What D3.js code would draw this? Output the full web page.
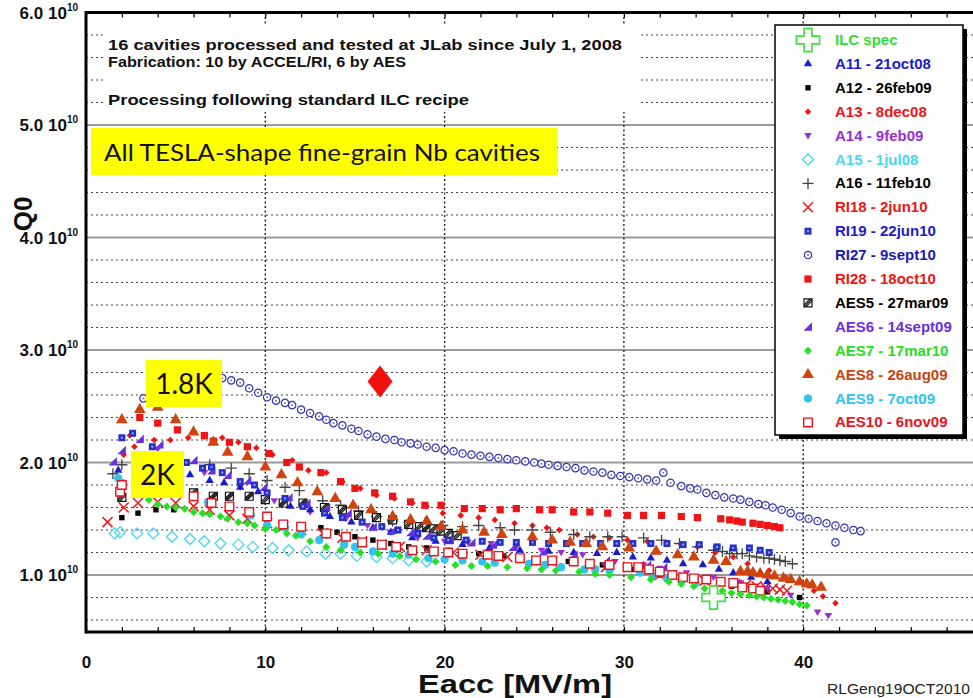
<!DOCTYPE html>
<html><head><meta charset="utf-8">
<script src="https://cdn.jsdelivr.net/npm/d3@7"></script>
<style>body{margin:0;background:#fff}svg{display:block}</style>
</head><body>
<svg id="c" width="973" height="698"></svg>
<script>
// ---------- DATA (Eacc [MV/m], Q0 [1e10]) ----------
const xTickLabels=[0,10,20,30,40,50];
const yTickLabels=[1,2,3,4,5,6];
const legendLabels=["ILC spec","A11 - 21oct08","A12 - 26feb09","A13 - 8dec08","A14 - 9feb09","A15 - 1jul08","A16 - 11feb10","RI18 - 2jun10","RI19 - 22jun10","RI27 - 9sept10","RI28 - 18oct10","AES5 - 27mar09","AES6 - 14sept09","AES7 - 17mar10","AES8 - 26aug09","AES9 - 7oct09","AES10 - 6nov09"];
const ILC_spec=[[35,0.80]];
const A11=[[1.8,1.93],[5.8,1.89],[6.9,1.84],[7.7,1.82],[8.6,1.78],[9.6,1.74],[11.4,1.61],[12.5,1.58],[13.6,1.52],[14.8,1.47],[16,1.42],[17,1.38],[18.2,1.33],[19.5,1.30],[21,1.27],[22.5,1.24],[24.2,1.22],[25.8,1.21],[27.2,1.20],[28.5,1.19],[29.6,1.20],[30.5,1.16],[31.5,1.15],[32.4,1.13],[33.3,1.10],[34.4,1.09],[35.3,1.05],[36.1,1.02],[37.1,0.98],[38,0.94]];
const A12=[[2.0,1.51],[2.9,1.55],[3.9,1.58],[4.9,1.58],[13.1,1.42],[14.0,1.38],[15.0,1.34],[16.0,1.31],[17.0,1.28],[18.0,1.25],[19.0,1.24],[21.9,1.19],[23.3,1.17],[25,1.14],[26.9,1.12],[28.8,1.09],[30.5,1.05],[32,1.0],[34,0.95],[36,0.9],[38,0.85],[39.8,0.80]];
const A13=[[2.1,2.07],[2.45,2.24],[2.7,2.14],[3.8,2.20],[4.7,2.20],[5.7,2.22],[6.6,2.23],[7.6,2.22],[8.5,2.18],[9.5,2.13],[10.4,2.07],[11.5,2.02],[12.4,1.93],[13.4,1.91],[14.3,1.83],[15.3,1.77],[16.2,1.71],[17.2,1.68],[18.2,1.64],[19.0,1.61],[19.9,1.55],[20.9,1.53],[21.9,1.51],[22.8,1.49],[23.9,1.46],[24.9,1.44],[25.7,1.42],[26.4,1.40],[27.4,1.36],[28.3,1.34],[29.2,1.33],[30.2,1.31],[31.3,1.30],[32.4,1.28],[33.2,1.27],[34.1,1.25],[35.1,1.20],[36.1,1.16],[36.9,1.10],[38.1,1.04],[39.0,0.98],[40.0,0.92],[40.6,0.86],[41.1,0.81],[41.8,0.75]];
const A14=[[4.0,2.12],[6.6,1.91],[8.6,1.78],[10.5,1.66],[12.5,1.56],[14.5,1.50],[15.7,1.44],[17,1.38],[18.5,1.33],[20,1.30],[21.3,1.29],[22.6,1.28],[24,1.25],[25.4,1.22],[26.5,1.20],[27.7,1.18],[29.5,1.12],[31.1,1.09],[32,1.06],[33.5,1.02],[35,0.98],[36.5,0.93],[38,0.88],[39.3,0.82],[40.8,0.67],[41.4,0.64]];
const A15=[[1.6,1.37],[1.9,1.38],[2.85,1.37],[3.75,1.37],[4.8,1.34],[5.8,1.32],[6.6,1.30],[7.5,1.28],[8.5,1.27],[9.3,1.25],[10.4,1.24],[11.3,1.22],[12.3,1.21],[13.35,1.19],[14.2,1.19],[15.1,1.17],[16.2,1.16],[17.1,1.15],[18.0,1.13],[19.0,1.12]];
const A16=[[1.5,1.90],[2.0,1.98],[6.9,1.98],[8.1,1.95],[9.1,1.90],[10.1,1.84],[11.1,1.78],[11.9,1.75],[13.2,1.66],[14.2,1.62],[15.2,1.57],[16.2,1.52],[17.1,1.48],[18.0,1.47],[18.9,1.46],[19.9,1.44],[21.0,1.43],[21.9,1.44],[23.1,1.42],[23.9,1.40],[24.9,1.40],[25.9,1.38],[27.2,1.36],[28.1,1.34],[29.1,1.34],[29.9,1.34],[31.1,1.33],[32.1,1.31],[33.1,1.28],[34.1,1.25],[35.0,1.22],[35.5,1.21],[35.9,1.19],[36.3,1.19],[36.6,1.19],[37.0,1.17],[37.4,1.16],[37.8,1.15],[38.1,1.15],[38.4,1.14],[38.7,1.13],[39.0,1.12],[39.4,1.10]];
const RI18=[[1.2,1.47],[2.1,1.60],[2.9,1.64],[4.0,1.65],[5.0,1.64],[6.0,1.61],[6.9,1.58],[8.0,1.53],[9.0,1.50],[10.1,1.46],[11.0,1.43],[12.0,1.40],[13.2,1.37],[14.3,1.33],[15.4,1.30],[16.5,1.27],[17.5,1.25],[19.0,1.22],[20.5,1.20],[22.0,1.18],[23.5,1.16],[26.0,1.12],[29.0,1.07],[32.0,1.00],[34.5,0.95],[36.2,0.92],[36.8,0.91],[37.4,0.90],[37.9,0.89],[38.3,0.88],[38.7,0.87],[39.1,0.86]];
const RI19=[[2.0,2.22],[2.6,2.26],[3.7,2.14],[5.6,2.00],[6.5,1.95],[7.0,1.96],[7.6,1.91],[8.6,1.83],[9.4,1.80],[10.1,1.73],[11.1,1.68],[12.1,1.61],[13.3,1.55],[14.3,1.51],[15.4,1.47],[16.5,1.43],[17.4,1.40],[18.5,1.37],[19.4,1.33],[20.2,1.31],[21.2,1.31],[22.1,1.30],[23.1,1.29],[24.0,1.29],[24.9,1.29],[25.8,1.28],[26.8,1.28],[27.7,1.28],[28.7,1.28],[29.6,1.28],[30.5,1.28],[31.5,1.28],[32.4,1.28],[33.3,1.27],[34.2,1.27],[35.2,1.25],[36.1,1.24],[37.0,1.24],[37.6,1.22],[38.1,1.20]];
const RI27=[[3.2,2.57],[3.6,2.62],[4.0,2.66],[4.5,2.70],[5.0,2.72],[5.5,2.74],[6.0,2.76],[6.5,2.76],[7.0,2.76],[7.6,2.75],[8.1,2.73],[8.6,2.71],[9.1,2.66],[9.6,2.62],[10.1,2.58],[10.6,2.55],[11.1,2.53],[11.5,2.51],[12.0,2.47],[12.5,2.44],[13.0,2.41],[13.4,2.38],[13.8,2.35],[14.3,2.33],[14.8,2.30],[15.2,2.28],[15.7,2.25],[16.2,2.23],[16.7,2.21],[17.2,2.20],[17.6,2.18],[18.1,2.17],[18.5,2.16],[19.0,2.14],[19.5,2.13],[20.0,2.11],[20.5,2.10],[21.0,2.08],[21.5,2.07],[22.0,2.06],[22.5,2.05],[23.0,2.04],[23.5,2.03],[24.0,2.02],[24.5,2.01],[25.0,2.00],[25.4,1.99],[25.8,1.98],[26.3,1.97],[26.8,1.96],[27.3,1.95],[27.8,1.93],[28.3,1.92],[28.8,1.91],[29.3,1.89],[29.8,1.88],[30.3,1.87],[30.8,1.86],[31.3,1.85],[31.8,1.84],[32.2,1.91],[32.6,1.82],[33.2,1.79],[33.7,1.77],[34.1,1.76],[34.6,1.73],[35.1,1.71],[35.6,1.69],[36.1,1.68],[36.5,1.67],[37.0,1.65],[37.5,1.63],[37.9,1.62],[38.3,1.60],[38.8,1.58],[39.3,1.55],[39.8,1.52],[40.3,1.50],[40.8,1.48],[41.3,1.46],[41.8,1.44],[42.3,1.42],[42.8,1.40],[43.2,1.39],[41.8,1.29]];
const RI28=[[3.0,2.40],[4.0,2.35],[5.1,2.29],[6.6,2.24],[7.1,2.19],[8.0,2.18],[9.0,2.14],[10.2,2.08],[11.2,2.00],[11.9,1.96],[13.1,1.91],[14.2,1.83],[15.0,1.77],[16.1,1.73],[17.1,1.70],[18.1,1.65],[18.9,1.62],[19.8,1.62],[21.1,1.59],[22.1,1.59],[23.1,1.58],[24.0,1.59],[25.3,1.58],[26.0,1.58],[27.2,1.56],[28.1,1.56],[29.1,1.55],[30.2,1.53],[31.1,1.53],[32.1,1.53],[33.2,1.52],[34.1,1.51],[35.4,1.50],[35.9,1.49],[36.3,1.48],[36.6,1.47],[37.2,1.46],[37.6,1.45],[38.0,1.44],[38.4,1.43],[38.7,1.42]];
const AES5=[[2.0,1.69],[6.0,1.73],[7.1,1.70],[8.0,1.70],[9.1,1.70],[10.0,1.67],[11.0,1.64],[12.1,1.64],[13.3,1.60],[14.3,1.58],[15.2,1.53],[16.2,1.51],[17.1,1.49],[18.0,1.45],[18.6,1.43],[19.0,1.42],[19.4,1.41],[19.8,1.39],[20.2,1.37],[20.7,1.35]];
const AES6=[[1.5,2.01],[2.0,2.11],[3.0,2.21],[4.1,2.16],[6.0,2.02],[7.0,1.93],[7.9,1.89],[9.0,1.84],[9.9,1.78],[11.3,1.69],[12.3,1.64],[13.4,1.60],[14.6,1.55],[16.0,1.43],[17.1,1.40],[18.1,1.38],[19.0,1.35],[20.3,1.31],[21.5,1.29],[22.7,1.27],[23.8,1.25],[25.5,1.21],[27.2,1.18],[29.0,1.13],[30.9,1.09],[31.3,1.09],[32.2,1.07]];
const AES7=[[3.5,1.67],[4.0,1.63],[4.5,1.61],[5.0,1.60],[5.5,1.59],[6.0,1.56],[6.5,1.55],[6.9,1.54],[7.5,1.52],[7.9,1.50],[8.5,1.47],[9.0,1.46],[9.4,1.44],[10.0,1.41],[10.6,1.40],[11.2,1.37],[11.7,1.35],[12.5,1.30],[13.4,1.25],[14.2,1.22],[15.3,1.20],[16.3,1.19],[17.5,1.17],[18.4,1.14],[19.5,1.12],[20.6,1.09],[21.5,1.08],[22.4,1.08],[23.5,1.07],[24.6,1.06],[25.4,1.05],[26.2,1.04],[27.5,1.03],[28.4,1.01],[29.2,1.00],[30.4,0.98],[31.5,0.96],[32.5,0.94],[33.2,0.92],[33.9,0.90],[34.5,0.88],[35.0,0.87],[35.5,0.86],[36.0,0.84],[36.5,0.83],[37.0,0.82],[37.4,0.81],[37.8,0.80],[38.2,0.79],[38.6,0.78],[39.0,0.77],[39.4,0.76],[39.8,0.74],[40.2,0.73]];
const AES8=[[2.0,2.38],[3.0,2.47],[4.0,2.49],[5.0,2.38],[6.0,2.27],[7.1,2.18],[7.9,2.09],[9.0,2.05],[10.0,1.96],[10.9,1.89],[11.8,1.82],[12.9,1.74],[13.9,1.68],[14.9,1.62],[15.9,1.58],[17.1,1.52],[18.1,1.49],[19.0,1.48],[19.8,1.43],[21.0,1.40],[22.2,1.38],[23.2,1.36],[24.9,1.34],[26.0,1.31],[27.0,1.29],[27.9,1.28],[28.8,1.25],[30.3,1.24],[31.8,1.21],[33.0,1.18],[33.9,1.16],[35.0,1.13],[35.7,1.12],[36.5,1.03],[36.9,1.03],[37.2,1.02],[37.6,1.01],[38.0,1.00],[38.4,0.99],[38.9,0.97],[39.3,0.96],[39.8,0.94],[40.2,0.92],[40.5,0.91],[41.0,0.89]];
const AES9=[[1.8,1.86],[2.0,1.82],[6.8,1.65],[9.2,1.53],[10.1,1.44],[11.1,1.42],[12.0,1.36],[13.0,1.31],[14.4,1.27],[15.0,1.25],[16.0,1.21],[17.1,1.19],[18.0,1.18],[19.1,1.15],[20.0,1.14],[21.0,1.13],[22.1,1.12],[22.8,1.11],[24.7,1.10],[25.6,1.09],[26.5,1.07],[27.8,1.05],[28.4,1.05],[29.2,1.04],[30.9,1.02],[31.6,0.99],[32.4,0.97],[33.2,0.95],[34.0,0.93]];
const AES10=[[1.9,1.74],[2.0,1.80],[6.0,1.70],[7.0,1.64],[8.0,1.61],[9.1,1.56],[10.1,1.52],[11.0,1.45],[12.0,1.43],[13.4,1.37],[14.5,1.34],[15.4,1.29],[16.5,1.27],[17.3,1.25],[18.2,1.22],[19.4,1.21],[20.2,1.20],[21.0,1.19],[22.4,1.18],[23.0,1.17],[24.2,1.15],[25.1,1.13],[26.0,1.13],[27.2,1.12],[28.1,1.10],[29.2,1.09],[30.2,1.07],[30.8,1.07],[31.4,1.05],[32.0,1.03],[32.7,1.00],[33.3,0.98],[33.9,0.97],[34.6,0.96],[35.4,0.94],[36.1,0.93],[36.6,0.89],[37.2,0.88],[37.6,0.86]];
const redMarker=[[16.4,2.72]];

// ---------- STYLE ----------
const series=[
 {data:ILC_spec,shape:"ilc",color:"#3be03b",text:"#33dd33"},
 {data:A11,shape:"tri",color:"#1c1cc8",text:"#1c1cc8"},
 {data:A12,shape:"sq",color:"#000",text:"#000"},
 {data:A13,shape:"dia",color:"#ee1515",text:"#ee1515"},
 {data:A14,shape:"itri",color:"#9a2fd0",text:"#9a2fd0"},
 {data:A15,shape:"odia",color:"#45d8ee",text:"#45d8ee"},
 {data:A16,shape:"plus",color:"#444",text:"#000"},
 {data:RI18,shape:"x",color:"#ee1a1a",text:"#ee1515"},
 {data:RI19,shape:"bsq",color:"#2430c8",text:"#1c1cc8"},
 {data:RI27,shape:"ocirc",color:"#3434b0",text:"#1a1ab0"},
 {data:RI28,shape:"rsq",color:"#ee1515",text:"#ee1515"},
 {data:AES5,shape:"hsq",color:"#111",text:"#000"},
 {data:AES6,shape:"rtri",color:"#6a30dd",text:"#6a30dd"},
 {data:AES7,shape:"gdia",color:"#26e026",text:"#26dd26"},
 {data:AES8,shape:"btri",color:"#d0440f",text:"#c8440f"},
 {data:AES9,shape:"circ",color:"#2ec4ee",text:"#2ec4ee"},
 {data:AES10,shape:"osq",color:"#e8141e",text:"#e8141e"}
];

const svg=d3.select("#c");
const x=d3.scaleLinear().domain([0,50]).range([86,982.5]);
const y=d3.scaleLinear().domain([0.5,6]).range([631.25,12.5]);
const L=86,T=12.5,B=632;
const F="'Liberation Sans', Arial, Helvetica, sans-serif";

// grid
const g=svg.append("g");
const minor=d3.range(3,30).filter(i=>i%5!==0).map(i=>i/5);
g.selectAll(".mn").data(minor).join("line").attr("x1",L).attr("x2",973)
 .attr("y1",d=>y(d)).attr("y2",d=>y(d)).attr("stroke","#444").attr("stroke-width",1.2).attr("stroke-dasharray","2,3");
g.selectAll(".mj").data(yTickLabels.filter(d=>d<6)).join("line").attr("x1",L).attr("x2",973)
 .attr("y1",d=>y(d)).attr("y2",d=>y(d)).attr("stroke","#9a9a9a").attr("stroke-width",2);
g.selectAll(".vx").data([10,20,30,40]).join("line").attr("y1",T).attr("y2",B)
 .attr("x1",d=>x(d)).attr("x2",d=>x(d)).attr("stroke","#222").attr("stroke-width",1.4).attr("stroke-dasharray","2,2.5");

// minor ticks bottom/top via axis
svg.append("g").attr("transform",`translate(0,${B})`)
 .call(d3.axisBottom(x).tickValues(d3.range(0,51,2)).tickSize(-5).tickFormat(""))
 .call(a=>a.select(".domain").remove()).selectAll("line").attr("stroke","#000").attr("stroke-width",1.2);
svg.append("g").attr("transform",`translate(0,${T})`)
 .call(d3.axisTop(x).tickValues(d3.range(0,51,2)).tickSize(-5).tickFormat(""))
 .call(a=>a.select(".domain").remove()).selectAll("line").attr("stroke","#000").attr("stroke-width",1.2);

// x tick labels
svg.append("g").attr("transform",`translate(0,${B})`)
 .call(d3.axisBottom(x).tickValues(xTickLabels).tickSize(0).tickPadding(24).tickFormat(d3.format("d")))
 .call(a=>a.select(".domain").remove())
 .selectAll("text").attr("font-family",F).attr("font-weight","bold").attr("font-size",17).attr("fill","#111");

// y tick labels with superscript
const yl=svg.append("g");
yTickLabels.forEach(v=>{
  const t=yl.append("text").attr("x",78).attr("y",y(v)+6).attr("text-anchor","end")
   .attr("font-family",F).attr("font-weight","bold").attr("fill","#111");
  t.append("tspan").attr("font-size",17).text(v.toFixed(1)+" 10");
  t.append("tspan").attr("font-size",10).attr("dy",-8).text("10");
});

// top text box
svg.append("rect").attr("x",106).attr("y",26).attr("width",534).attr("height",86).attr("fill","#fff");
const tl=[["16 cavities processed and tested at JLab since July 1, 2008",50,514],["Fabrication: 10 by ACCEL/RI, 6 by AES",67,298],["Processing following standard ILC recipe",105,361]];
tl.forEach(([s,yy,w])=>svg.append("text").attr("x",108).attr("y",yy).attr("font-family",F).attr("font-weight","bold")
  .attr("font-size",14).attr("textLength",w).attr("lengthAdjust","spacingAndGlyphs").attr("fill","#111").text(s));

// marker drawing
function mark(sel,shape,c){
  const p=(d,fill,stroke,sw)=>sel.append("path").attr("d",d).attr("fill",fill||"none").attr("stroke",stroke||"none").attr("stroke-width",sw||0);
  switch(shape){
   case "ilc": p(d3.symbol(d3.symbolCross,300)(),"#fff",c,1.6);break;
   case "tri": p(d3.symbol(d3.symbolTriangle,30)(),c);break;
   case "sq": p("M-2.7,-2.7h5.4v5.4h-5.4z",c);break;
   case "dia": p("M0,-3.3L3.3,0L0,3.3L-3.3,0Z",c);break;
   case "itri": p("M-3.8,-2.6H3.8L0,3.8Z",c);break;
   case "odia": p("M0,-5.5L5.5,0L0,5.5L-5.5,0Z","none",c,1.3);break;
   case "plus": p("M-5.5,0H5.5M0,-5.5V5.5","none",c,1.3);break;
   case "x": p("M-5,-5L5,5M-5,5L5,-5","none",c,1.5);break;
   case "bsq": p("M-3.5,-3.5h7v7h-7z",c); p("M-1,-1h2v2h-2z","#9aa6f0");break;
   case "ocirc": p(d3.symbol(d3.symbolCircle,42)(),"#fff",c,1.2); p(d3.symbol(d3.symbolCircle,3)(),"#6c6cc0");break;
   case "rsq": p("M-3.6,-3.6h7.2v7.2h-7.2z",c);break;
   case "hsq": p("M-4,-4h8v8h-8z","#fff",c,1.2); p("M-4,2L2,-4M-2,4L4,-2M-4,4L4,-4","none",c,1.1);break;
   case "rtri": p("M-4.5,4L4,-4.5V4Z",c);break;
   case "gdia": p("M0,-4L4,0L0,4L-4,0Z",c);break;
   case "btri": p(d3.symbol(d3.symbolTriangle,60)(),c);break;
   case "circ": p(d3.symbol(d3.symbolCircle,52)(),c);break;
   case "osq": p("M-4.3,-4.3h8.6v8.6h-8.6z","#fff",c,1.4);break;
  }
}

// data marks
const order=[9,5,2,7,4,1,3,10,6,11,12,8,14,15,16,13];
order.forEach(i=>{
  const sr=series[i];
  svg.append("g").selectAll("g").data(sr.data).join("g")
   .attr("transform",d=>`translate(${x(d[0])},${y(d[1])})`)
   .each(function(){mark(d3.select(this),sr.shape,sr.color);});
});
svg.append("g").selectAll("g").data(ILC_spec).join("g")
 .attr("transform",d=>`translate(${x(d[0])},${y(d[1])})`).each(function(){mark(d3.select(this),"ilc",series[0].color);});

// red diamond annotation
svg.append("g").selectAll("path").data(redMarker).join("path")
 .attr("d","M0,-16L12.5,0L0,16L-12.5,0Z").attr("fill","#f01010")
 .attr("transform",d=>`translate(${x(d[0])},${y(d[1])})`);

// yellow labels
const LF="Lato, 'Open Sans', sans-serif";
svg.append("rect").attr("x",91).attr("y",128).attr("width",466).attr("height",47).attr("fill","#ffff00");
svg.append("text").attr("x",104).attr("y",161).attr("font-family",LF).attr("font-size",24).attr("textLength",436)
 .attr("lengthAdjust","spacingAndGlyphs").attr("fill","#111").text("All TESLA-shape fine-grain Nb cavities");
svg.append("rect").attr("x",146).attr("y",360).attr("width",76).attr("height",47).attr("fill","#ffff00");
svg.append("text").attr("x",184).attr("y",394).attr("text-anchor","middle").attr("font-family",LF).attr("font-size",28).attr("fill","#111").text("1.8K");
svg.append("rect").attr("x",131).attr("y",451).attr("width",53).attr("height",47).attr("fill","#ffff00");
svg.append("text").attr("x",157.5).attr("y",485).attr("text-anchor","middle").attr("font-family",LF).attr("font-size",28).attr("fill","#111").text("2K");

// frame
svg.append("line").attr("x1",L).attr("x2",L).attr("y1",T-1.5).attr("y2",B+1.5).attr("stroke","#000").attr("stroke-width",3);
svg.append("line").attr("x1",L).attr("x2",973).attr("y1",T).attr("y2",T).attr("stroke","#000").attr("stroke-width",3);
svg.append("line").attr("x1",L).attr("x2",973).attr("y1",B).attr("y2",B).attr("stroke","#000").attr("stroke-width",3);

// legend
const lg=svg.append("g");
lg.append("rect").attr("x",779).attr("y",29).attr("width",188).attr("height",410).attr("fill","#000");
lg.append("rect").attr("x",775).attr("y",25).attr("width",188).attr("height",410).attr("fill","#fff").attr("stroke","#000").attr("stroke-width",1.5);
series.forEach((sr,i)=>{
  const yy=40+i*23.9;
  const m=lg.append("g").attr("transform",`translate(808,${yy})`);
  mark(m,sr.shape,sr.color);
  lg.append("text").attr("x",835).attr("y",yy+5).attr("font-family",F).attr("font-weight","bold")
   .attr("font-size",15).attr("fill",sr.text).text(legendLabels[i]);
});

// axis titles
svg.append("text").attr("transform","translate(32,214) rotate(-90)").attr("text-anchor","middle")
 .attr("font-family",F).attr("font-weight","bold").attr("font-size",26).attr("fill","#111").text("Q0");
svg.append("text").attr("x",418).attr("y",693).attr("font-family",F).attr("font-weight","bold").attr("font-size",26)
 .attr("textLength",194).attr("lengthAdjust","spacingAndGlyphs").attr("fill","#111").text("Eacc [MV/m]");
svg.append("text").attr("x",827).attr("y",694).attr("font-family",F).attr("font-size",15)
 .attr("textLength",143).attr("lengthAdjust","spacingAndGlyphs").attr("fill","#222").text("RLGeng19OCT2010");
</script>
</body></html>
